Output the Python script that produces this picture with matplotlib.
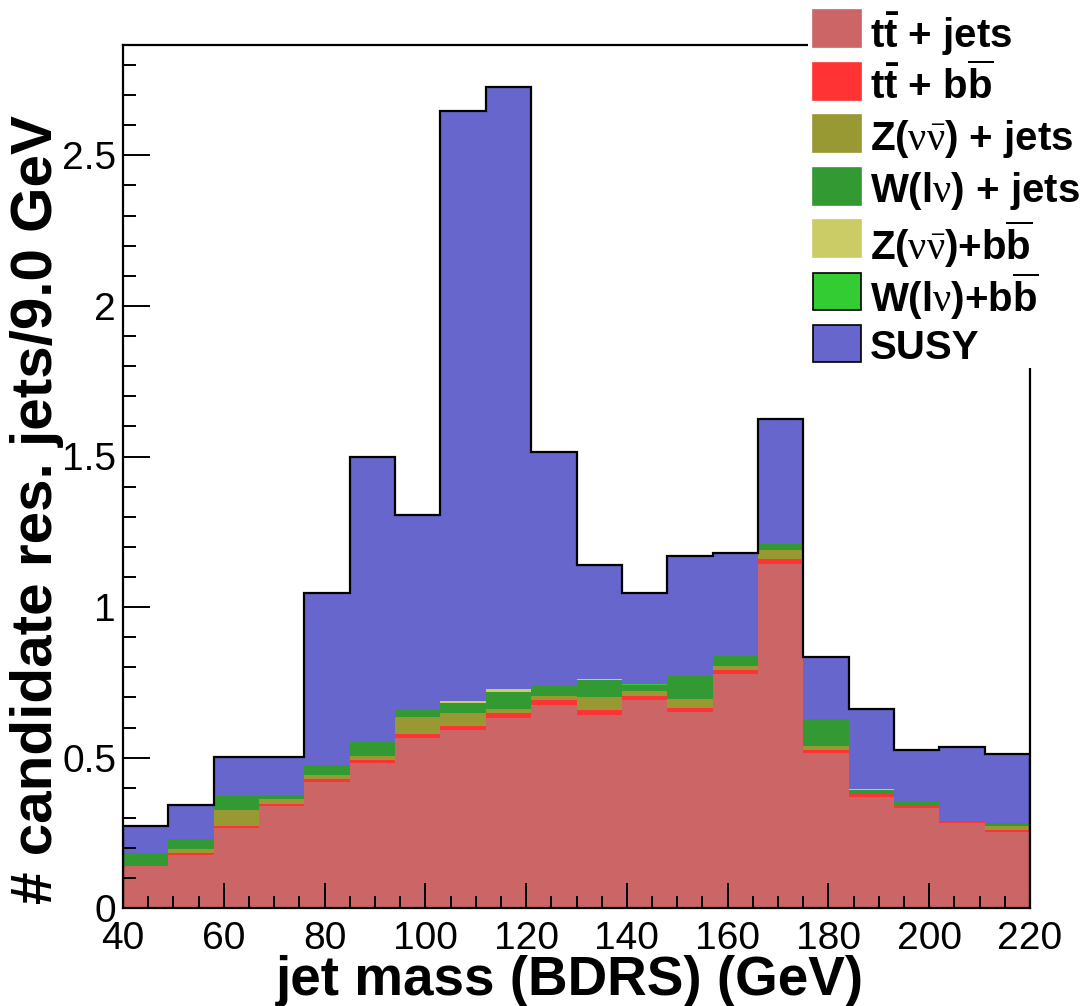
import numpy as np
import matplotlib
matplotlib.use("Agg")
import matplotlib.pyplot as plt
from matplotlib.patches import Rectangle
from matplotlib.ticker import MultipleLocator, FormatStrFormatter

plt.rcParams['font.family'] = ['Liberation Sans', 'DejaVu Sans']
plt.rcParams['mathtext.fontset'] = 'custom'
plt.rcParams['mathtext.rm'] = 'Liberation Serif'
plt.rcParams['mathtext.bf'] = 'Liberation Sans:bold'
plt.rcParams['mathtext.it'] = 'Liberation Serif'

# ---- data ----
bin_edges = np.arange(40, 221, 9)
tt_jets = [0.141, 0.177, 0.268, 0.340, 0.419, 0.482, 0.566, 0.593, 0.633, 0.676,
           0.642, 0.692, 0.652, 0.779, 1.144, 0.517, 0.371, 0.334, 0.284, 0.254]
tt_bb = [0.003, 0.006, 0.006, 0.007, 0.009, 0.010, 0.013, 0.012, 0.015, 0.016,
         0.016, 0.014, 0.013, 0.012, 0.015, 0.009, 0.008, 0.009, 0.005, 0.007]
z_jets = [0.000, 0.014, 0.052, 0.015, 0.015, 0.014, 0.056, 0.043, 0.014, 0.014,
          0.044, 0.015, 0.030, 0.013, 0.031, 0.013, 0.002, 0.001, 0.000, 0.012]
w_jets = [0.038, 0.033, 0.047, 0.011, 0.034, 0.046, 0.024, 0.034, 0.057, 0.032,
          0.056, 0.021, 0.077, 0.034, 0.020, 0.088, 0.012, 0.010, 0.000, 0.009]
z_bb = [0.000, 0.000, 0.000, 0.000, 0.000, 0.000, 0.000, 0.006, 0.009, 0.000,
        0.003, 0.000, 0.000, 0.000, 0.000, 0.000, 0.003, 0.000, 0.000, 0.000]
w_bb = [0.000, 0.000, 0.000, 0.000, 0.000, 0.000, 0.001, 0.000, 0.000, 0.000,
        0.000, 0.002, 0.000, 0.000, 0.000, 0.000, 0.000, 0.000, 0.000, 0.000]
total = [0.273, 0.344, 0.502, 0.503, 1.047, 1.497, 1.306, 2.647, 2.727, 1.515,
         1.140, 1.047, 1.170, 1.180, 1.625, 0.835, 0.662, 0.524, 0.535, 0.511]

labels = [r'$\mathbf{t\bar{t}}$ + jets',
          r'$\mathbf{t\bar{t}}$ + $\mathbf{b\overline{b}}$',
          r'Z($\mathrm{\nu\bar{\nu}}$) + jets',
          r'W(l$\mathrm{\nu}$) + jets',
          r'Z($\mathrm{\nu\bar{\nu}}$)+$\mathbf{b\overline{b}}$',
          r'W(l$\mathrm{\nu}$)+$\mathbf{b\overline{b}}$',
          'SUSY']
colors = ['#CC6666', '#FF3333', '#999933', '#339933', '#CCCC66', '#33CC33', '#6666CC']

bkgs = [tt_jets, tt_bb, z_jets, w_jets, z_bb, w_bb]
bkg_sum = np.sum(np.array(bkgs), axis=0)
susy = np.array(total) - bkg_sum

W, H = 1090, 1006
fig = plt.figure(figsize=(W/100, H/100), dpi=100)
ax = fig.add_axes([123/W, 1-908.3/H, (1030-123)/W, (908.3-45)/H])

stack = [np.array(v) for v in bkgs] + [susy]
bottom = np.zeros(len(total))
for vals, col in zip(stack, colors):
    top = bottom + vals
    ax.stairs(top, bin_edges, baseline=bottom, fill=True, color=col, linewidth=0)
    bottom = top
ax.stairs(np.array(total), bin_edges, baseline=0, fill=False, color='black', linewidth=1.6)

ax.set_xlim(40, 220)
ax.set_ylim(0, (908.3-45)/301.2)
ax.xaxis.set_major_locator(MultipleLocator(20))
ax.xaxis.set_minor_locator(MultipleLocator(5))
ax.yaxis.set_major_locator(MultipleLocator(0.5))
ax.yaxis.set_minor_locator(MultipleLocator(0.1))
ax.yaxis.set_major_formatter(FormatStrFormatter('%g'))
ax.tick_params(axis='x', which='major', direction='in', length=18, width=1.4, labelsize=28, pad=9)
ax.tick_params(axis='x', which='minor', direction='in', length=8.6, width=1.4)
ax.tick_params(axis='y', which='major', direction='in', length=19.4, width=1.4, labelsize=28, pad=5)
ax.tick_params(axis='y', which='minor', direction='in', length=9.4, width=1.4)
for s in ax.spines.values():
    s.set_linewidth(1.6)

ax.set_xlabel('jet mass (BDRS) (GeV)', fontsize=39.5, fontweight='bold')
ax.xaxis.set_label_coords(0.493, (908.3-955)/863.3)
ax.set_ylabel('# candidate res. jets/9.0 GeV', fontsize=42, fontweight='bold')
ax.yaxis.set_label_coords((64-123)/907, (908.3-510)/863.3)

# legend (drawn manually in figure pixel positions)
fig.patches.append(Rectangle((808/W, 1-368/H), (W-808)/W, 368/H, transform=fig.transFigure,
                             facecolor='white', edgecolor='none', zorder=5))
pitch = 52.5
for i, (lab, col) in enumerate(zip(labels, colors)):
    ytop = 10 + pitch*i
    ec = 'black' if i >= 5 else col
    fig.patches.append(Rectangle((813/W, 1-(ytop+37)/H), 48/W, 37/H, transform=fig.transFigure,
                                 facecolor=col, edgecolor=ec, linewidth=1.2, zorder=6))
    fig.text(870/W, 1-(ytop+19)/H, lab, fontsize=29, fontweight='bold',
             ha='left', va='center_baseline', zorder=7)

fig.savefig('out.png', dpi=100)
